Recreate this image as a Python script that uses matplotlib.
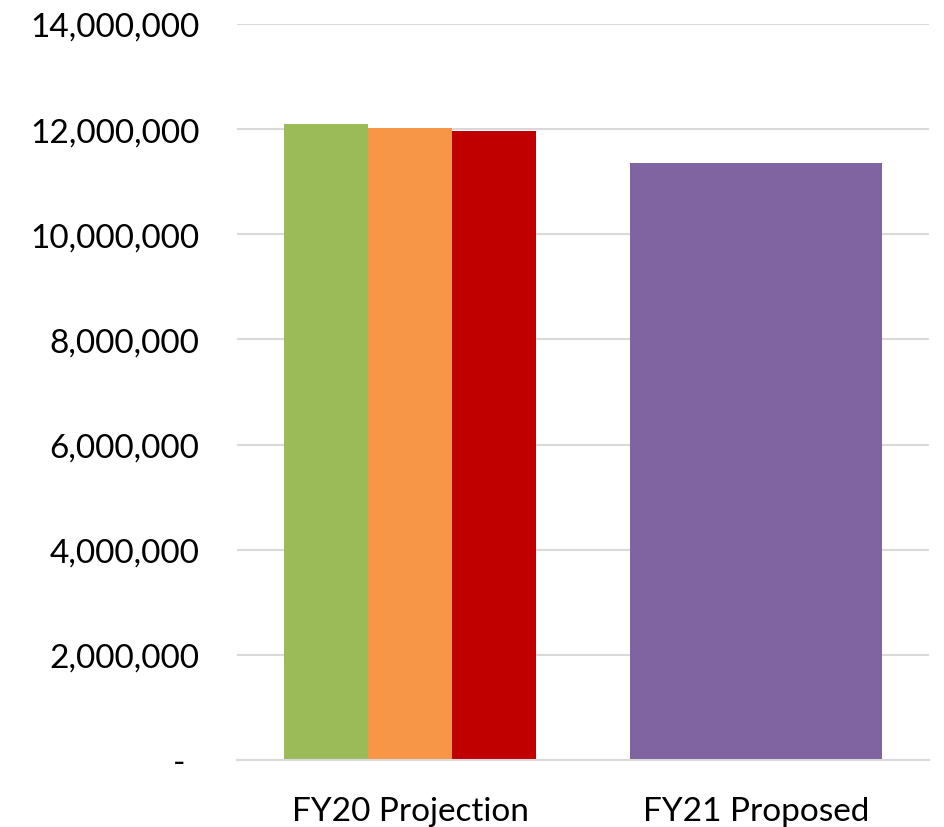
import numpy as np
import matplotlib.pyplot as plt
from matplotlib.ticker import FuncFormatter

categories = ['FY20 Projection', 'FY21 Proposed']
# three series per category
fy20_values = [12097000, 12020000, 11960000]
fy21_values = [11355000, 11362000, 11362000]
fy20_colors = ['#9BBB59', '#F79646', '#C00000']
fy21_colors = ['#8064A2', '#8064A2', '#8064A2']

plt.rcParams['font.family'] = ['Lato', 'DejaVu Sans']

fig = plt.figure(figsize=(9.45, 8.28), dpi=100)
ax = fig.add_axes([237 / 945, 1 - 761 / 828, (929 - 237) / 945, (761 - 25) / 828])

width = 0.243
offsets = np.array([-1, 0, 1]) * width
ax.bar(0 + offsets, fy20_values, width=width, color=fy20_colors, zorder=2)
ax.bar(1 + offsets, fy21_values, width=width, color=fy21_colors, zorder=2)

ax.set_xlim(-0.5, 1.5)
ax.set_ylim(0, 14000000)
ax.set_yticks(np.arange(0, 14000001, 2000000))


def fmt(v, pos):
    if v == 0:
        return '-'
    return '{:,.0f}'.format(v)


ax.yaxis.set_major_formatter(FuncFormatter(fmt))
ax.set_xticks([0, 1])
ax.set_xticklabels(categories)
ax.tick_params(axis='y', labelsize=24, length=0, pad=27)
ax.tick_params(axis='x', labelsize=24, length=0, pad=26)
for lbl in ax.get_yticklabels():
    lbl.set_horizontalalignment('right')
# Excel's accounting dash sits a little left of the number column
ax.get_yticklabels()[0].set_x(-14 / 692)

ax.grid(axis='y', color='#D9D9D9', linewidth=1.5, zorder=0)
for s in ['top', 'right', 'left']:
    ax.spines[s].set_visible(False)
ax.spines['bottom'].set_color('#D9D9D9')
ax.spines['bottom'].set_linewidth(1.5)

fig.savefig('out.png', dpi=100)
